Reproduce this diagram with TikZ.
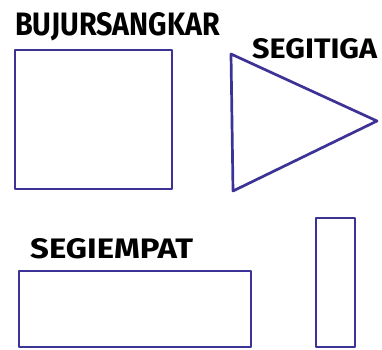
\documentclass[tikz,border=0pt]{standalone}
\usepackage{fontspec}
\usepackage{graphicx}
\setmainfont{Fira Sans}
\definecolor{shapeblue}{HTML}{3D3296}
\begin{document}
\begin{tikzpicture}[x=1pt,y=-1pt,
  shapeline/.style={draw=shapeblue,line width=2.7pt,line join=round},
  lbl/.style={inner sep=0pt,anchor=north west,font=\bfseries}]
\useasboundingbox[fill=white] (0,0) rectangle (382,349);
% labels
\node[lbl] (lsq) at (15,12) {\resizebox{205pt}{23pt}{BUJURSANGKAR}};
\node[lbl] (ltri) at (252,38) {\resizebox{125pt}{20pt}{SEGITIGA}};
\node[lbl] (lrect) at (30,238) {\resizebox{163pt}{20pt}{SEGIEMPAT}};
% shapes
\draw[shapeline] (15,50) rectangle (172,189);
\coordinate (t1) at (231,54);
\coordinate (t2) at (377,121);
\coordinate (t3) at (233,191);
\draw[shapeline] (t1) -- (t2) -- (t3) -- cycle;
\draw[shapeline] (19,271) rectangle (251,347);
\draw[shapeline] (316,218) rectangle (355,347);
\end{tikzpicture}
\end{document}
